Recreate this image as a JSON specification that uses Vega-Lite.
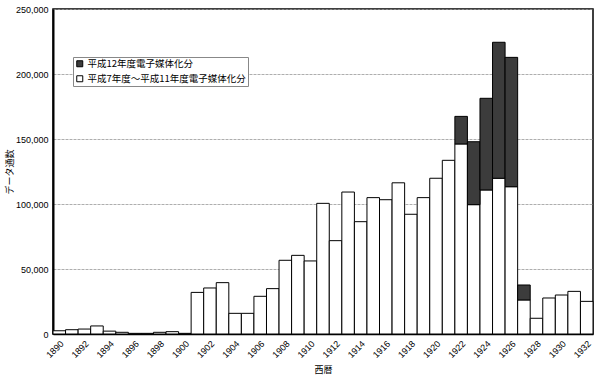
{
  "$schema": "https://vega.github.io/schema/vega-lite/v6.json",
  "width": 540,
  "height": 325,
  "autosize": {"type": "none"},
  "padding": {"left": 53, "top": 9, "right": 7, "bottom": 43},
  "background": "white",
  "config": {
    "view": {"stroke": "black", "strokeWidth": 1.5},
    "font": "Liberation Sans"
  },
  "data": {
    "values": [
      {"year": "1890", "series": "平成7年度～平成11年度電子媒体化分", "value": 2500},
      {"year": "1891", "series": "平成7年度～平成11年度電子媒体化分", "value": 3300},
      {"year": "1892", "series": "平成7年度～平成11年度電子媒体化分", "value": 3800},
      {"year": "1893", "series": "平成7年度～平成11年度電子媒体化分", "value": 6200},
      {"year": "1894", "series": "平成7年度～平成11年度電子媒体化分", "value": 2200},
      {"year": "1895", "series": "平成7年度～平成11年度電子媒体化分", "value": 1300},
      {"year": "1896", "series": "平成7年度～平成11年度電子媒体化分", "value": 500},
      {"year": "1897", "series": "平成7年度～平成11年度電子媒体化分", "value": 500},
      {"year": "1898", "series": "平成7年度～平成11年度電子媒体化分", "value": 1300},
      {"year": "1899", "series": "平成7年度～平成11年度電子媒体化分", "value": 1800},
      {"year": "1900", "series": "平成7年度～平成11年度電子媒体化分", "value": 500},
      {"year": "1901", "series": "平成7年度～平成11年度電子媒体化分", "value": 32000},
      {"year": "1902", "series": "平成7年度～平成11年度電子媒体化分", "value": 35400},
      {"year": "1903", "series": "平成7年度～平成11年度電子媒体化分", "value": 39500},
      {"year": "1904", "series": "平成7年度～平成11年度電子媒体化分", "value": 15900},
      {"year": "1905", "series": "平成7年度～平成11年度電子媒体化分", "value": 15900},
      {"year": "1906", "series": "平成7年度～平成11年度電子媒体化分", "value": 29000},
      {"year": "1907", "series": "平成7年度～平成11年度電子媒体化分", "value": 34900},
      {"year": "1908", "series": "平成7年度～平成11年度電子媒体化分", "value": 56700},
      {"year": "1909", "series": "平成7年度～平成11年度電子媒体化分", "value": 60500},
      {"year": "1910", "series": "平成7年度～平成11年度電子媒体化分", "value": 56200},
      {"year": "1911", "series": "平成7年度～平成11年度電子媒体化分", "value": 100500},
      {"year": "1912", "series": "平成7年度～平成11年度電子媒体化分", "value": 71800},
      {"year": "1913", "series": "平成7年度～平成11年度電子媒体化分", "value": 109200},
      {"year": "1914", "series": "平成7年度～平成11年度電子媒体化分", "value": 86400},
      {"year": "1915", "series": "平成7年度～平成11年度電子媒体化分", "value": 104900},
      {"year": "1916", "series": "平成7年度～平成11年度電子媒体化分", "value": 103300},
      {"year": "1917", "series": "平成7年度～平成11年度電子媒体化分", "value": 116300},
      {"year": "1918", "series": "平成7年度～平成11年度電子媒体化分", "value": 92100},
      {"year": "1919", "series": "平成7年度～平成11年度電子媒体化分", "value": 104900},
      {"year": "1920", "series": "平成7年度～平成11年度電子媒体化分", "value": 119800},
      {"year": "1921", "series": "平成7年度～平成11年度電子媒体化分", "value": 133600},
      {"year": "1922", "series": "平成7年度～平成11年度電子媒体化分", "value": 146200},
      {"year": "1923", "series": "平成7年度～平成11年度電子媒体化分", "value": 99500},
      {"year": "1924", "series": "平成7年度～平成11年度電子媒体化分", "value": 110800},
      {"year": "1925", "series": "平成7年度～平成11年度電子媒体化分", "value": 119800},
      {"year": "1926", "series": "平成7年度～平成11年度電子媒体化分", "value": 113300},
      {"year": "1927", "series": "平成7年度～平成11年度電子媒体化分", "value": 26200},
      {"year": "1928", "series": "平成7年度～平成11年度電子媒体化分", "value": 12100},
      {"year": "1929", "series": "平成7年度～平成11年度電子媒体化分", "value": 27700},
      {"year": "1930", "series": "平成7年度～平成11年度電子媒体化分", "value": 30000},
      {"year": "1931", "series": "平成7年度～平成11年度電子媒体化分", "value": 32800},
      {"year": "1932", "series": "平成7年度～平成11年度電子媒体化分", "value": 25100},
      {"year": "1922", "series": "平成12年度電子媒体化分", "value": 21200},
      {"year": "1923", "series": "平成12年度電子媒体化分", "value": 48400},
      {"year": "1924", "series": "平成12年度電子媒体化分", "value": 70500},
      {"year": "1925", "series": "平成12年度電子媒体化分", "value": 104600},
      {"year": "1926", "series": "平成12年度電子媒体化分", "value": 99500},
      {"year": "1927", "series": "平成12年度電子媒体化分", "value": 11500}
    ]
  },
  "mark": {"type": "bar", "stroke": "black", "strokeWidth": 1},
  "encoding": {
    "x": {
      "field": "year",
      "type": "ordinal",
      "scale": {"paddingInner": 0, "paddingOuter": 0},
      "axis": {
        "title": "西暦",
        "titleFont": "Noto Sans CJK JP",
        "titleFontSize": 9,
        "titleFontWeight": "normal",
        "titlePadding": 6,
        "values": ["1890","1892","1894","1896","1898","1900","1902","1904","1906","1908","1910","1912","1914","1916","1918","1920","1922","1924","1926","1928","1930","1932"],
        "labelAngle": -45,
        "labelFontSize": 9,
        "labelColor": "black",
        "ticks": false,
        "labelPadding": 5,
        "domainColor": "black",
        "domainWidth": 1.5
      }
    },
    "y": {
      "field": "value",
      "type": "quantitative",
      "stack": "zero",
      "scale": {"domain": [0, 250000], "nice": false},
      "axis": {
        "title": "データ通数",
        "titleFont": "Noto Sans CJK JP",
        "titleFontSize": 9,
        "titleFontWeight": "normal",
        "titlePadding": 1,
        "values": [0, 50000, 100000, 150000, 200000, 250000],
        "format": ",.0f",
        "labelFontSize": 9,
        "labelColor": "black",
        "ticks": false,
        "labelPadding": 5,
        "domainColor": "black",
        "domainWidth": 2,
        "grid": true,
        "gridColor": "#999999",
        "gridDash": [3, 1],
        "gridWidth": 0.8
      }
    },
    "color": {
      "field": "series",
      "type": "nominal",
      "scale": {
        "domain": ["平成12年度電子媒体化分", "平成7年度～平成11年度電子媒体化分"],
        "range": ["#3c3c3c", "#ffffff"]
      },
      "legend": {
        "title": null,
        "orient": "none",
        "legendX": 20,
        "legendY": 48,
        "direction": "vertical",
        "symbolType": "square",
        "symbolSize": 36,
        "symbolStrokeColor": "black",
        "symbolStrokeWidth": 1,
        "labelFont": "Noto Sans CJK JP",
        "labelFontSize": 9.5,
        "labelColor": "black",
        "labelLimit": 300,
        "labelOffset": 3,
        "rowPadding": 4,
        "padding": 2,
        "fillColor": "white",
        "strokeColor": "#888888"
      }
    },
    "order": {"field": "series", "sort": "descending"}
  }
}
